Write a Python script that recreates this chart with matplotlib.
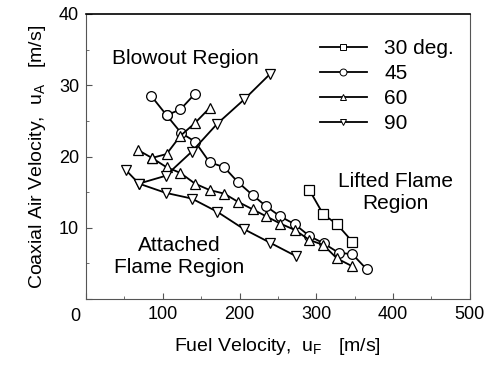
import matplotlib
matplotlib.use("Agg")
import matplotlib.pyplot as plt
from matplotlib.lines import Line2D

plt.rcParams['font.family'] = ['Liberation Sans', 'DejaVu Sans']
plt.rcParams['mathtext.fontset'] = 'custom'
plt.rcParams['mathtext.rm'] = 'Liberation Sans'

# 30 deg
x30 = [291, 309, 327, 347]
y30 = [15.3, 11.9, 10.5, 8.05]

# 45 deg (main branch + upper branch)
x45 = [85, 105, 124, 142, 161, 180, 198, 217, 235, 253, 272, 291, 310, 329, 347, 365.5]
y45 = [28.5, 25.8, 23.3, 22.1, 19.2, 18.5, 16.4, 14.6, 13.0, 11.6, 10.5, 8.85, 7.8, 6.5, 6.3, 4.2]
x45b = [105, 123, 142]
y45b = [25.8, 26.6, 28.8]

# 60 deg (main branch + upper branch)
x60 = [68, 86, 105, 123, 142, 161, 180, 198, 217, 235, 253, 272, 291, 309, 327, 347]
y60 = [20.9, 19.8, 18.5, 17.7, 16.2, 15.3, 14.8, 13.65, 12.6, 11.6, 10.6, 9.7, 8.3, 7.6, 5.7, 4.6]
x60b = [86, 105, 123, 142, 161]
y60b = [19.8, 20.35, 22.9, 24.7, 26.8]

# 90 deg (main branch + upper branch)
x90 = [52, 69, 104, 138, 171, 206, 240, 274]
y90 = [18.1, 16.2, 14.9, 14.1, 12.25, 9.8, 7.9, 6.0]
x90b = [69, 104, 138, 171, 206, 240]
y90b = [16.2, 17.3, 20.7, 24.6, 28.0, 31.6]

labels = ['30 deg.', '45', '60', '90']
xticks = [0, 100, 200, 300, 400, 500]
yticks = [0, 10, 20, 30, 40]

fig = plt.figure(figsize=(4.91, 3.67), dpi=100)
ax = fig.add_axes([0.175, 0.185, 0.782, 0.777])

kw = dict(color='black', lw=1.3, mfc='white', mec='black', mew=0.9, ms=7)
ax.plot(x30, y30, marker='s', **kw)
ax.plot(x45, y45, marker='o', **kw)
ax.plot(x45b, y45b, marker='o', **kw)
ax.plot(x60, y60, marker='^', **kw)
ax.plot(x60b, y60b, marker='^', **kw)
ax.plot(x90, y90, marker='v', **kw)
ax.plot(x90b, y90b, marker='v', **kw)

handles = [Line2D([], [], color='black', lw=1.3, marker=m, mfc='white', mec='black', mew=0.7, ms=5)
           for m in ['s', 'o', '^', 'v']]
ax.legend(handles, labels, loc='upper left', bbox_to_anchor=(0.609, 0.911), frameon=False,
          fontsize=15, handlelength=2.25, handletextpad=0.85, labelspacing=0.29,
          borderpad=0, borderaxespad=0)

ax.set_xlim(0, 500)
ax.set_ylim(0, 40)
ax.set_xticks(xticks)
ax.set_xticklabels([''] + [str(t) for t in xticks[1:]])
ax.set_yticks(yticks)
ax.set_yticklabels([''] + [str(t) for t in yticks[1:]])
ax.set_xticks([50, 150, 250, 350, 450], minor=True)
ax.set_yticks([5, 15, 25, 35], minor=True)
ax.tick_params(which='both', direction='in', top=False, right=False, labelsize=13, color='#555555')
ax.tick_params(which='major', length=4, pad=5)
ax.tick_params(which='minor', length=2.5)
for s in ['left', 'bottom', 'right']:
    ax.spines[s].set_color('#555555')
ax.spines['top'].set_color('black')
ax.spines['top'].set_linewidth(1.2)

ax.text(-0.028, -0.03, '0', transform=ax.transAxes, ha='center', va='top', fontsize=13)

ax.text(129, 33.7, 'Blowout Region', ha='center', va='center', fontsize=15)
ax.text(403, 14.9, 'Lifted Flame\nRegion', ha='center', va='center', fontsize=15, linespacing=1.2)
ax.text(121, 6.0, 'Attached\nFlame Region', ha='center', va='center', fontsize=15, linespacing=1.2)

ax.set_xlabel(r'Fuel Velocity,  u$_\mathregular{F}$   [m/s]', fontsize=14, labelpad=9)
ax.set_ylabel(r'Coaxial Air Velocity,  u$_\mathregular{A}$   [m/s]', fontsize=14, labelpad=8)

fig.savefig('out.png', dpi=100)
